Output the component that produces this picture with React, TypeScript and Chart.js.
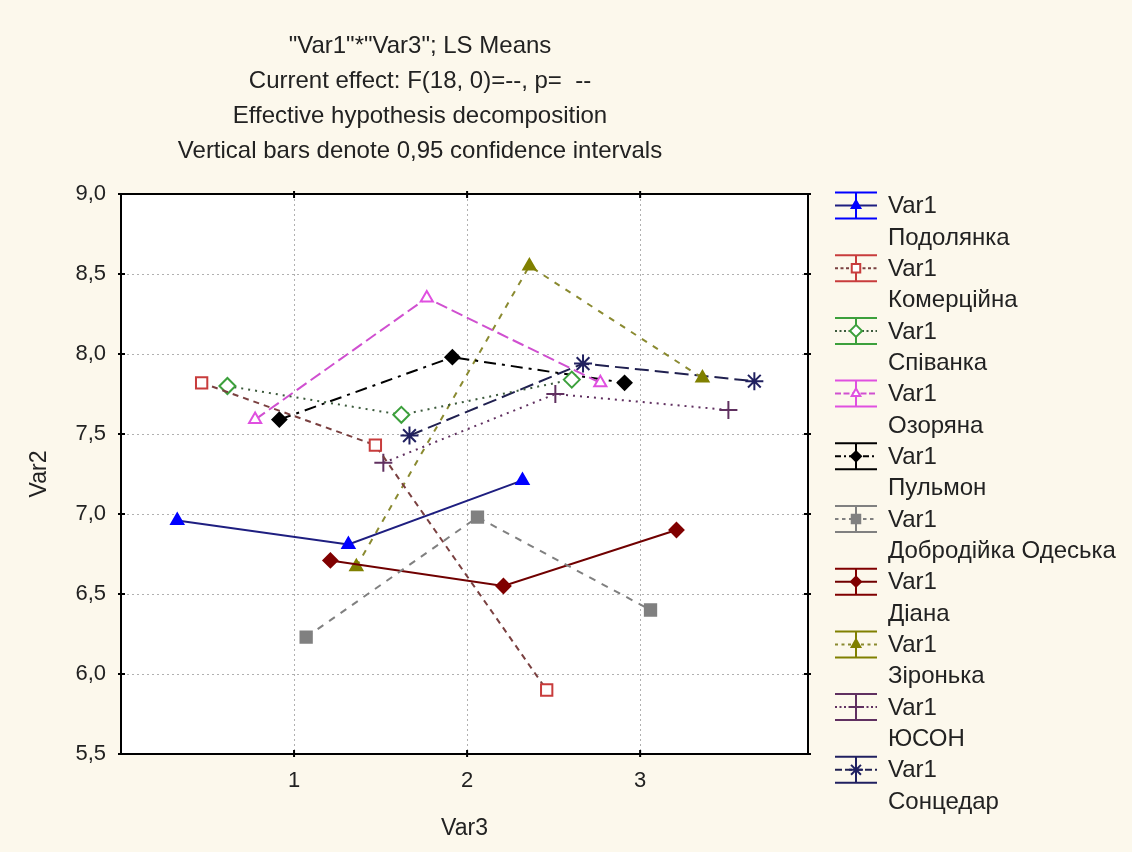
import React, { useEffect, useRef } from "react";
import { Chart, registerables } from "chart.js";
import { drawPoint } from "chart.js/helpers";

Chart.register(...registerables);

const TITLE_LINES = [
  '"Var1"*"Var3"; LS Means',
  "Current effect: F(18, 0)=--, p=  --",
  "Effective hypothesis decomposition",
  "Vertical bars denote 0,95 confidence intervals",
];
const X_AXIS_TITLE = "Var3";
const Y_AXIS_TITLE = "Var2";
const FACTOR_LABEL = "Var1";
const X_TICKS = [1, 2, 3];

const SERIES_NAMES = [
  "Подолянка",
  "Комерційна",
  "Співанка",
  "Озоряна",
  "Пульмон",
  "Добродійка Одеська",
  "Діана",
  "Зіронька",
  "ЮСОН",
  "Сонцедар",
];

// x positions (category offsets as plotted) and means per series
const X_PODOLYANKA = [0.325, 1.314, 2.32];
const Y_PODOLYANKA = [6.96, 6.81, 7.21];
const X_KOMERTSIINA = [0.466, 1.47, 2.46];
const Y_KOMERTSIINA = [7.82, 7.43, 5.9];
const X_SPIVANKA = [0.615, 1.62, 2.605];
const Y_SPIVANKA = [7.8, 7.62, 7.84];
const X_OZORIANA = [0.775, 1.767, 2.77];
const Y_OZORIANA = [7.59, 8.35, 7.82];
const X_PULMON = [0.915, 1.915, 2.91];
const Y_PULMON = [7.59, 7.98, 7.82];
const X_DOBRODIIKA = [1.07, 2.06, 3.06];
const Y_DOBRODIIKA = [6.23, 6.98, 6.4];
const X_DIANA = [1.21, 2.21, 3.21];
const Y_DIANA = [6.71, 6.55, 6.9];
const X_ZIRONKA = [1.36, 2.36, 3.36];
const Y_ZIRONKA = [6.67, 8.55, 7.85];
const X_YUSON = [1.516, 2.51, 3.51];
const Y_YUSON = [7.32, 7.75, 7.65];
const X_SONTSEDAR = [1.667, 2.67, 3.66];
const Y_SONTSEDAR = [7.49, 7.94, 7.83];

const X_VALUES = [X_PODOLYANKA, X_KOMERTSIINA, X_SPIVANKA, X_OZORIANA, X_PULMON, X_DOBRODIIKA, X_DIANA, X_ZIRONKA, X_YUSON, X_SONTSEDAR];
const Y_VALUES = [Y_PODOLYANKA, Y_KOMERTSIINA, Y_SPIVANKA, Y_OZORIANA, Y_PULMON, Y_DOBRODIIKA, Y_DIANA, Y_ZIRONKA, Y_YUSON, Y_SONTSEDAR];

const STYLES = [
  { line: "#1e1e80", marker: "#0000ff", fill: "#0000ff", dash: [], point: "triangle", r: 7 },
  { line: "#7a4040", marker: "#c83c3c", fill: "#ffffff", dash: [6, 5], point: "rect", r: 8 },
  { line: "#3c5a3c", marker: "#3ca03c", fill: "#ffffff", dash: [2, 5], point: "rectRot", r: 8 },
  { line: "#d050d0", marker: "#e050e0", fill: "#ffffff", dash: [12, 5], point: "triangle", r: 7 },
  { line: "#000000", marker: "#000000", fill: "#000000", dash: [12, 6, 3, 6], point: "rectRot", r: 7 },
  { line: "#808080", marker: "#808080", fill: "#808080", dash: [7, 7], point: "rect", r: 8 },
  { line: "#700000", marker: "#800000", fill: "#800000", dash: [], point: "rectRot", r: 7 },
  { line: "#8a8a30", marker: "#808000", fill: "#808000", dash: [6, 7], point: "triangle", r: 7 },
  { line: "#603060", marker: "#603060", fill: "#603060", dash: [2, 5], point: "cross", r: 9 },
  { line: "#202050", marker: "#202060", fill: "#202060", dash: [14, 6], point: "star", r: 9 },
];

const FONT = "'Liberation Sans', Arial, sans-serif";
const TEXT_COLOR = "#222222";
const PAGE_BG = "#fcf8ec";

const decorPlugin = {
  id: "decor",
  beforeDraw(chart: any) {
    const { ctx, chartArea } = chart;
    ctx.save();
    ctx.fillStyle = PAGE_BG;
    ctx.fillRect(0, 0, chart.width, chart.height);
    ctx.fillStyle = "#ffffff";
    ctx.fillRect(chartArea.left, chartArea.top, chartArea.right - chartArea.left, chartArea.bottom - chartArea.top);
    ctx.restore();
  },
  afterDraw(chart: any) {
    const { ctx, chartArea } = chart;
    const xs = chart.scales.x;
    const ys = chart.scales.y;
    ctx.save();
    // frame
    ctx.strokeStyle = "#000000";
    ctx.lineWidth = 2;
    ctx.setLineDash([]);
    ctx.strokeRect(chartArea.left, chartArea.top, chartArea.right - chartArea.left, chartArea.bottom - chartArea.top);
    // ticks across the frame
    ys.ticks.forEach((t: any) => {
      const y = ys.getPixelForValue(t.value);
      ctx.beginPath();
      ctx.moveTo(chartArea.left - 3, y);
      ctx.lineTo(chartArea.left + 4, y);
      ctx.moveTo(chartArea.right - 4, y);
      ctx.lineTo(chartArea.right + 3, y);
      ctx.stroke();
    });
    xs.ticks.forEach((t: any) => {
      const x = xs.getPixelForValue(t.value);
      ctx.beginPath();
      ctx.moveTo(x, chartArea.top - 3);
      ctx.lineTo(x, chartArea.top + 4);
      ctx.moveTo(x, chartArea.bottom - 4);
      ctx.lineTo(x, chartArea.bottom + 3);
      ctx.stroke();
    });
    // title
    ctx.fillStyle = TEXT_COLOR;
    ctx.font = `24px ${FONT}`;
    ctx.textAlign = "center";
    ctx.textBaseline = "middle";
    const titleY = [46, 81, 116, 151];
    TITLE_LINES.forEach((line, i) => ctx.fillText(line, 420, titleY[i]));
    // legend
    ctx.textAlign = "left";
    SERIES_NAMES.forEach((name, i) => {
      const s = STYLES[i];
      const cy = 205.5 + 62.7 * i;
      const x0 = 835;
      const x1 = 877;
      const cx = 856;
      ctx.setLineDash([]);
      ctx.lineWidth = 2;
      ctx.strokeStyle = s.marker;
      ctx.beginPath();
      ctx.moveTo(x0, cy - 13);
      ctx.lineTo(x1, cy - 13);
      ctx.moveTo(x0, cy + 13);
      ctx.lineTo(x1, cy + 13);
      ctx.moveTo(cx, cy - 13);
      ctx.lineTo(cx, cy + 13);
      ctx.stroke();
      ctx.strokeStyle = s.line;
      ctx.setLineDash(s.dash.map((d) => Math.max(2, d * 0.5)));
      ctx.beginPath();
      ctx.moveTo(x0, cy);
      ctx.lineTo(x1, cy);
      ctx.stroke();
      ctx.setLineDash([]);
      ctx.fillStyle = s.fill;
      ctx.strokeStyle = s.marker;
      drawPoint(ctx, { pointStyle: s.point, rotation: 0, radius: s.r - 2, borderWidth: 2 }, cx, cy);
      ctx.fillStyle = TEXT_COLOR;
      ctx.font = `24px ${FONT}`;
      ctx.fillText(FACTOR_LABEL, 888, cy + 1);
      ctx.fillText(name, 888, cy + 32.4);
    });
    ctx.restore();
  },
};

export default function App() {
  const ref = useRef<HTMLCanvasElement | null>(null);
  useEffect(() => {
    if (!ref.current) return;
    const datasets = SERIES_NAMES.map((name, i) => {
      const s = STYLES[i];
      return {
        label: `${FACTOR_LABEL} ${name}`,
        data: X_VALUES[i].map((x, j) => ({ x, y: Y_VALUES[i][j] })),
        showLine: true,
        borderColor: s.line,
        borderWidth: 2,
        borderDash: s.dash,
        backgroundColor: s.fill,
        pointStyle: s.point,
        pointRadius: s.r,
        pointBackgroundColor: s.fill,
        pointBorderColor: s.marker,
        pointBorderWidth: 2,
        tension: 0,
      };
    });
    const chart = new Chart(ref.current, {
      type: "scatter",
      data: { datasets },
      options: {
        responsive: false,
        animation: false,
        devicePixelRatio: 1,
        layout: { padding: { left: 0, top: 194, right: 324, bottom: 0 } },
        plugins: {
          legend: { display: false },
          title: { display: false },
          tooltip: { enabled: false },
        },
        scales: {
          x: {
            type: "linear",
            min: 0,
            max: 3.97,
            afterFit: (s: any) => {
              s.height = 98;
            },
            afterBuildTicks: (s: any) => {
              s.ticks = X_TICKS.map((v) => ({ value: v }));
            },
            grid: { color: "#b0b0b0", lineWidth: 1, drawTicks: false },
            border: { display: true, color: "#000000", width: 2, dash: [2, 3] },
            ticks: {
              padding: 14,
              color: TEXT_COLOR,
              font: { family: FONT, size: 22 },
              callback: (v: any) => String(v),
            },
            title: {
              display: true,
              text: X_AXIS_TITLE,
              color: TEXT_COLOR,
              font: { family: FONT, size: 23 },
              padding: { top: 0, bottom: 10 },
            },
          },
          y: {
            type: "linear",
            min: 5.5,
            max: 9,
            afterFit: (s: any) => {
              s.width = 121;
            },
            grid: { color: "#b0b0b0", lineWidth: 1, drawTicks: false },
            border: { display: true, color: "#000000", width: 2, dash: [2, 3] },
            ticks: {
              stepSize: 0.5,
              padding: 15,
              color: TEXT_COLOR,
              font: { family: FONT, size: 22 },
              callback: (v: any) => Number(v).toFixed(1).replace(".", ","),
            },
            title: {
              display: true,
              text: Y_AXIS_TITLE,
              color: TEXT_COLOR,
              font: { family: FONT, size: 23 },
              padding: { top: 26, bottom: 0 },
            },
          },
        },
      },
      plugins: [decorPlugin],
    } as any);
    return () => chart.destroy();
  }, []);
  return (
    <div style={{ position: "fixed", left: 0, top: 0, width: 1132, height: 852, background: PAGE_BG }}>
      <canvas ref={ref} width={1132} height={852} style={{ display: "block", width: 1132, height: 852 }} />
    </div>
  );
}
